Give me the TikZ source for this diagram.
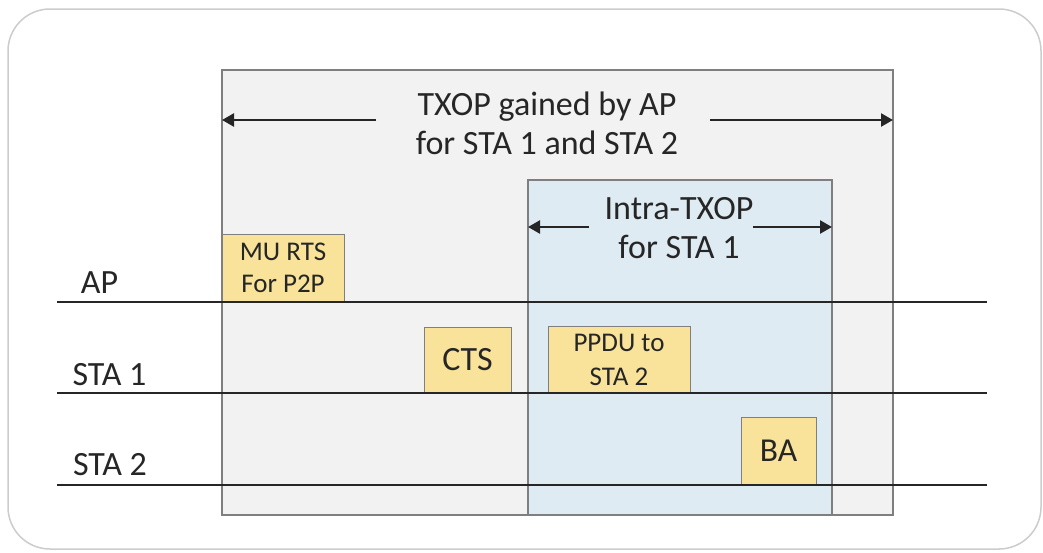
\documentclass[tikz,border=0pt]{standalone}
\usepackage{fontspec}
\setmainfont{Carlito}
\usetikzlibrary{arrows.meta}
\definecolor{outerc}{HTML}{CCCCCC}
\definecolor{grayfill}{HTML}{F2F2F2}
\definecolor{bluefill}{HTML}{DEEBF3}
\definecolor{framec}{HTML}{7F7F7F}
\definecolor{yel}{HTML}{F9E39A}
\tikzset{
  region/.style={draw=framec, line width=1.2pt, anchor=north west, inner sep=0pt, outer sep=0pt},
  frame/.style={draw=framec, fill=yel, line width=1pt, anchor=north west, inner sep=0pt, outer sep=0pt, align=center, text=black!85},
  tline/.style={line width=2.4pt, black!85},
  span/.style={line width=2.4pt, black!85, -{Triangle[length=12pt,width=13pt]}},
  lbl/.style={font=\fontsize{34}{39}\selectfont, text=black!85, align=center},
}
\begin{document}
\begin{tikzpicture}[x=1pt,y=-1pt]
\useasboundingbox (0,0) rectangle (1043,552);
\draw[outerc, line width=1.5pt, rounded corners=42pt] (8,9) rectangle (1041,549);
% regions
\node[region, fill=grayfill, minimum width=671pt, minimum height=445pt] (txop) at (222,70) {};
\node[region, fill=bluefill, minimum width=304pt, minimum height=335pt] (intra) at (528,180) {};
% top labels
\node[lbl] (ttxt) at (547,123.5) {TXOP gained by AP\\for STA 1 and STA 2};
\coordinate (tl) at (376,120);
\coordinate (tr) at (710,120);
\draw[span] (tl) -- (txop.west |- tl);
\draw[span] (tr) -- (txop.east |- tr);
\node[lbl] (itxt) at (679,228) {Intra-TXOP\\for STA 1};
\coordinate (il) at (589,227);
\coordinate (ir) at (753,227);
\draw[span] (il) -- (intra.west |- il);
\draw[span] (ir) -- (intra.east |- ir);
% time lines
\coordinate (ap0) at (57,302); \coordinate (ap1) at (987,302);
\coordinate (s10) at (57,393); \coordinate (s11) at (987,393);
\coordinate (s20) at (57,485); \coordinate (s21) at (987,485);
% frames
\node[frame, minimum width=122pt, minimum height=68pt, font=\fontsize{27}{32}\selectfont] (rts) at (222,234) {MU RTS\\For P2P};
\node[frame, minimum width=87pt, minimum height=66pt, font=\fontsize{34}{39}\selectfont] (cts) at (424,327) {CTS};
\node[frame, minimum width=142pt, minimum height=67pt, font=\fontsize{27}{34}\selectfont] (ppdu) at (548,326) {PPDU to\\STA 2};
\node[frame, minimum width=75pt, minimum height=68pt, font=\fontsize{33.5}{39}\selectfont] (ba) at (741,417) {BA};
\draw[tline] (ap0) -- (ap1);
\draw[tline] (s10) -- (s11);
\draw[tline] (s20) -- (s21);
\node[lbl, anchor=base] (aplbl) at (99.5,293) {AP};
\node[lbl, anchor=base] (s1lbl) at (109.5,385) {STA 1};
\node[lbl, anchor=base] (s2lbl) at (110,475) {STA 2};
\end{tikzpicture}
\end{document}
